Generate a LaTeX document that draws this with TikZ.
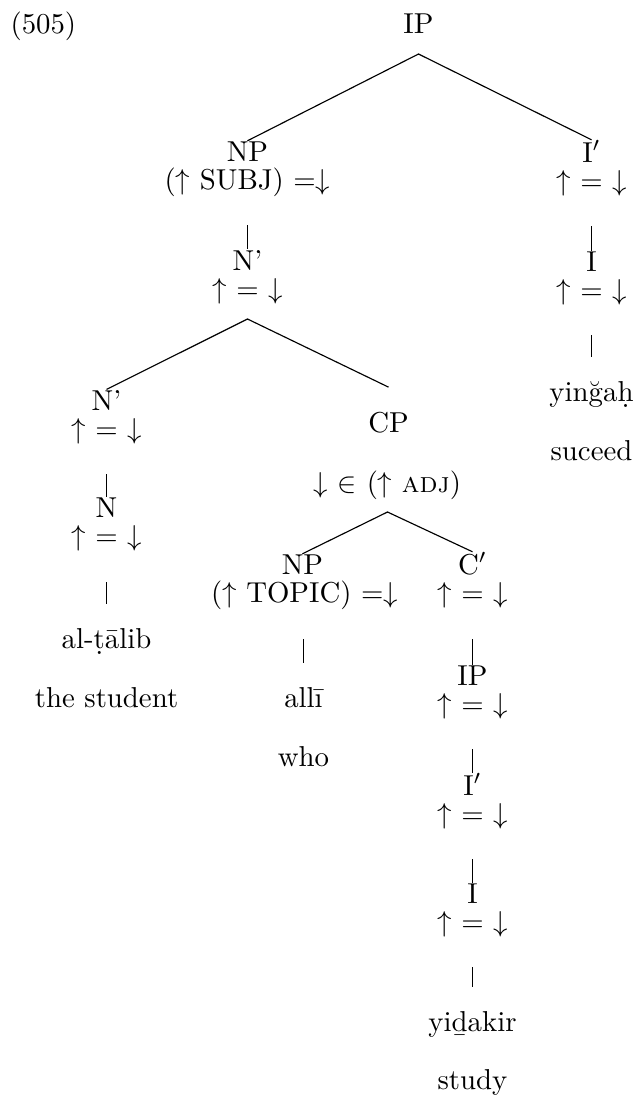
\documentclass[tikz,border=0pt]{standalone}
\usetikzlibrary{calc}
\newcommand\dbelow[1]{\oalign{#1\crcr\hidewidth.\hidewidth}}
\newcommand\lbelow[1]{\oalign{#1\crcr\hidewidth\vbox to.2ex{\hbox{\char"AF}\vss}\hidewidth}}
\newcommand\ueqd{$\uparrow$ = $\downarrow$}
\begin{document}
\begin{tikzpicture}[x=0.3472pt,y=-0.3472pt,
  lab/.style={inner sep=0pt,anchor=base},
  edge/.style={line width=0.4pt}]
\useasboundingbox (0,0) rectangle (638,1099);
% labels
\node[lab,anchor=base west] (ex) at (10,33) {(505)};
\node[lab] (ip) at (418.5,33) {IP};
\node[lab] (np) at (247.5,161) {NP};
\node[lab] (npf) at (247.5,189) {($\uparrow$ SUBJ) =$\downarrow$};
\node[lab] (ib) at (591.5,162) {I$'$};
\node[lab] (ibf) at (591.5,190) {\ueqd};
\node[lab] (nb) at (247.5,270) {N’};
\node[lab] (nbf) at (247.5,298) {\ueqd};
\node[lab] (ia) at (591.5,271) {I};
\node[lab] (iaf) at (591.5,299) {\ueqd};
\node[lab] (yin) at (591.5,401) {yin\u{g}a\dbelow{h}};
\node[lab] (suc) at (591.5,460) {suceed};
\node[lab] (nc) at (106.5,410) {N’};
\node[lab] (ncf) at (106.5,438) {\ueqd};
\node[lab] (cp) at (388.5,432) {CP};
\node[lab] (cpf) at (387.5,492) {$\downarrow$ $\in$ ($\uparrow$ \textsc{adj})};
\node[lab] (n) at (106.5,517) {N};
\node[lab] (nf) at (106.5,545) {\ueqd};
\node[lab] (tal) at (106.5,648) {al-\dbelow{t}\={a}lib};
\node[lab] (stu) at (106.5,707) {the student};
\node[lab] (npt) at (302.5,574) {NP};
\node[lab] (nptf) at (304.5,602) {($\uparrow$ TOPIC) =$\downarrow$};
\node[lab] (cb) at (472.5,574) {C$'$};
\node[lab] (cbf) at (472.5,602) {\ueqd};
\node[lab] (alli) at (303.5,707) {all\={\i}};
\node[lab] (who) at (303.5,766) {who};
\node[lab] (ipb) at (472.5,685) {IP};
\node[lab] (ipbf) at (472.5,713) {\ueqd};
\node[lab] (ic) at (472.5,795) {I$'$};
\node[lab] (icf) at (472.5,823) {\ueqd};
\node[lab] (id) at (472.5,903) {I};
\node[lab] (idf) at (472.5,931) {\ueqd};
\node[lab] (yid) at (472.5,1031) {yi\lbelow{d}akir};
\node[lab] (stud) at (472.5,1089) {study};
% branching edges
\coordinate (a0) at ($(ip.base)+(0,21)$);
\draw[edge] (np.north) -- (a0) -- (ib.north);
\coordinate (a1) at ($(nbf.base)+(0,21)$);
\draw[edge] (nc.north) -- (a1) -- ($(cp.north)+(0,-24)$);
\coordinate (a2) at ($(cpf.base)+(0,20)$);
\draw[edge] (npt.north) -- (a2) -- (cb.north);
% unary edges
\draw[edge] ($(npf.base)+(0,36)$) -- (nb.north);
\draw[edge] ($(ibf.base)+(0,36)$) -- (ia.north);
\draw[edge] ($(iaf.base)+(0,36)$) -- ($(yin.north)+(0,-23)$);
\draw[edge] ($(ncf.base)+(0,36)$) -- (n.north);
\draw[edge] ($(nf.base)+(0,37)$) -- ($(tal.north)+(0,-23)$);
\draw[edge] ($(alli |- nptf.base)+(0,37)$) -- ($(alli.north)+(0,-23)$);
\draw[edge] ($(cbf.base)+(0,37)$) -- (ipb.north);
\draw[edge] ($(ipbf.base)+(0,36)$) -- (ic.north);
\draw[edge] ($(icf.base)+(0,36)$) -- (id.north);
\draw[edge] ($(idf.base)+(0,36)$) -- ($(yid.north)+(0,-23)$);
\end{tikzpicture}
\end{document}
